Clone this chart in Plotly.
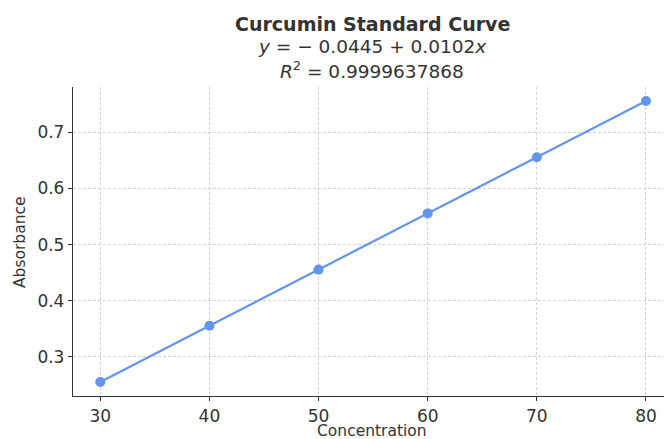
import plotly.graph_objects as go

concentration = [30, 40, 50, 60, 70, 80]
absorbance = [0.2555, 0.3555, 0.4555, 0.5555, 0.6555, 0.7555]
x_ticks = [30, 40, 50, 60, 70, 80]
y_ticks = [0.3, 0.4, 0.5, 0.6, 0.7]

title_main = "Curcumin Standard Curve"
title_eq = "<i>y</i> = \u2212 0.0445 + 0.0102<i>x</i>"
title_r2 = "<i>R</i><sup>2</sup> = 0.9999637868"
x_label = "Concentration"
y_label = "Absorbance"

FONT = "DejaVu Sans"
TXT = "#333333"
W, H = 664, 439
ML, MR, MT, MB = 73, 0, 87, 43

fig = go.Figure()
fig.add_trace(go.Scatter(
    x=concentration, y=absorbance, mode="lines+markers",
    line=dict(color="#6495ED", width=2.2),
    marker=dict(color="#6495ED", size=10),
    showlegend=False, cliponaxis=False,
))

grid = dict(showgrid=True, gridcolor="#d3d3d3", griddash="3px,2px", gridwidth=0.8)
fig.update_layout(
    width=W, height=H,
    margin=dict(l=ML, r=MR, t=MT, b=MB, autoexpand=False),
    paper_bgcolor="white", plot_bgcolor="white",
    font=dict(family=FONT, color=TXT),
    xaxis=dict(
        range=[27.5, 81.65], tickvals=x_ticks, ticktext=[str(v) for v in x_ticks],
        tickfont=dict(size=17, color=TXT), ticks="outside", ticklen=4, tickwidth=1.2,
        tickcolor="#333333", showline=True, linecolor="#333333", linewidth=1.3,
        zeroline=False, automargin=False, **grid,
    ),
    yaxis=dict(
        range=[0.2305, 0.7805], tickvals=y_ticks, ticktext=[f"{v:.1f}" for v in y_ticks],
        tickfont=dict(size=17, color=TXT), ticks="outside", ticklen=4, tickwidth=1.2,
        tickcolor="#333333", showline=True, linecolor="#333333", linewidth=1.3,
        zeroline=False, automargin=False, **grid,
    ),
)

plot_w = W - ML - MR
plot_h = H - MT - MB

def px(pix):
    return (pix - ML) / plot_w

def py(pix):
    return (H - MB - pix) / plot_h

cx = px(372)
fig.add_annotation(text=f"<b>{title_main}</b>", x=cx, y=py(24), xref="paper", yref="paper",
                   showarrow=False, font=dict(size=19, color=TXT), xanchor="center", yanchor="middle")
fig.add_annotation(text=title_eq, x=cx, y=py(47), xref="paper", yref="paper",
                   showarrow=False, font=dict(size=18.5, color=TXT), xanchor="center", yanchor="middle")
fig.add_annotation(text=title_r2, x=cx, y=py(70), xref="paper", yref="paper",
                   showarrow=False, font=dict(size=18.5, color=TXT), xanchor="center", yanchor="middle")
fig.add_annotation(text=x_label, x=cx, y=py(431), xref="paper", yref="paper",
                   showarrow=False, font=dict(size=15.5, color=TXT), xanchor="center", yanchor="middle")
fig.add_annotation(text=y_label, x=px(20), y=py(242), xref="paper", yref="paper", textangle=-90,
                   showarrow=False, font=dict(size=15.5, color=TXT), xanchor="center", yanchor="middle")

fig.write_html("out.html")
